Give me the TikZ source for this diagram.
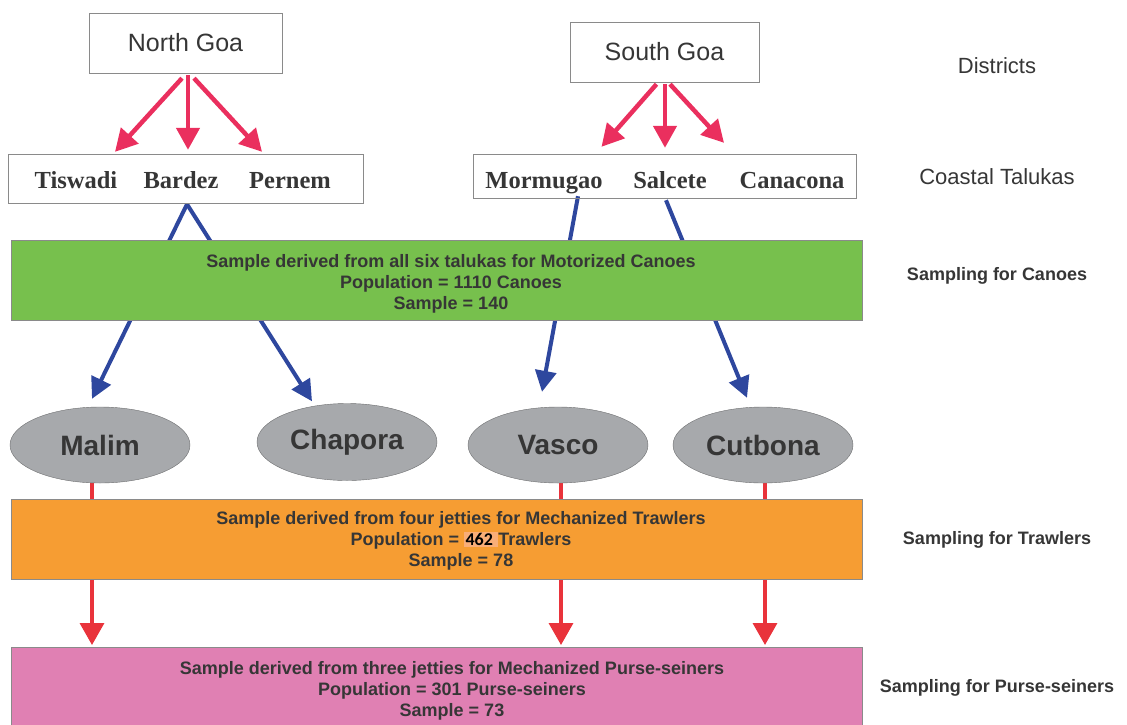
\documentclass[tikz,border=0pt]{standalone}
\usepackage{fontspec}
\setmainfont{Liberation Sans}
\newfontfamily\serifbold{Liberation Serif}
\newfontfamily\calfont{Carlito}
\usetikzlibrary{arrows.meta,shapes.geometric,backgrounds}
\definecolor{txtgray}{HTML}{363636}
\definecolor{boxgray}{HTML}{8A8A8A}
\definecolor{canoegreen}{HTML}{77C04D}
\definecolor{trawlorange}{HTML}{F69D33}
\definecolor{purspink}{HTML}{E080B3}
\definecolor{jettygray}{HTML}{A7A9AC}
\definecolor{jettyedge}{HTML}{6D6E70}
\definecolor{arrowpink}{HTML}{EA2F5E}
\definecolor{arrowblue}{HTML}{2E479E}
\definecolor{arrowred}{HTML}{E9333B}
\definecolor{hlorange}{HTML}{F9AE78}
\begin{document}
\begin{tikzpicture}[x=1pt,y=-1pt,
    district/.style={draw=boxgray,minimum width=193pt,minimum height=60pt,inner sep=0pt,
      font=\fontsize{25}{30}\selectfont,text=txtgray},
    talukabox/.style={draw=boxgray,inner sep=0pt},
    taluka/.style={anchor=base,font=\serifbold\bfseries\fontsize{24.5}{29}\selectfont,text=txtgray},
    sampling/.style={draw=boxgray,minimum width=851pt,minimum height=80pt,inner sep=0pt},
    samplingtext/.style={align=center,font=\bfseries\fontsize{18}{21}\selectfont,text=txtgray},
    jetty/.style={ellipse,draw=jettyedge,fill=jettygray,minimum width=180pt,minimum height=76pt,
      inner sep=0pt,font=\bfseries\fontsize{28}{32}\selectfont,text=txtgray},
    level/.style={font=\fontsize{22}{26}\selectfont,text=txtgray},
    levelbold/.style={font=\bfseries\fontsize{18}{22}\selectfont,text=txtgray},
    pinkarrow/.style={draw=arrowpink,line width=4.5pt,-{Triangle[width=23pt,length=22pt]}},
    bluearrow/.style={draw=arrowblue,line width=4pt,-{Triangle[width=21pt,length=21pt]}},
    redarrow/.style={draw=arrowred,line width=3.5pt,-{Triangle[width=24pt,length=22pt]}}]
  \useasboundingbox (0,0) rectangle (1127,724);
  \clip (0,0) rectangle (1127,724);
  % districts
  \node[district] (ng) at (185.5,43) {North Goa};
  \node[district,minimum width=189pt] (sg) at (664.5,52) {South Goa};
  % coastal talukas
  \node[talukabox,minimum width=355pt,minimum height=49pt] (nbox) at (185.5,178.5) {};
  \node[talukabox,minimum width=383pt,minimum height=44pt] (sbox) at (664.5,176) {};
  \node[taluka] (tiswadi) at (76,188) {Tiswadi};
  \node[taluka] (bardez) at (181,188) {Bardez};
  \node[taluka] (pernem) at (290,188) {Pernem};
  \node[taluka] (mormugao) at (544,188) {Mormugao};
  \node[taluka] (salcete) at (670,188) {Salcete};
  \node[taluka] (canacona) at (792,188) {Canacona};
  % sampling boxes
  \node[sampling,fill=canoegreen] (canoes) at (436.5,280) {};
  \node[samplingtext] (canoetext) at (451,284)
    {Sample derived from all six talukas for Motorized Canoes\\
     Population = 1110 Canoes\\ Sample = 140};
  \node[sampling,fill=trawlorange] (trawlers) at (436.5,539) {};
  \node[samplingtext] (trawlertext) at (461,541)
    {Sample derived from four jetties for Mechanized Trawlers\\
     Population = {\setlength{\fboxsep}{1.5pt}\colorbox{hlorange}{\calfont\color{black}462\hspace{4pt}}}Trawlers\\
     Sample = 78};
  \node[sampling,fill=purspink,minimum height=90pt,anchor=north] (seiners) at (436.5,647) {};
  \node[samplingtext] (seinertext) at (452,691)
    {Sample derived from three jetties for Mechanized Purse-seiners\\
     Population = 301 Purse-seiners\\ Sample = 73};
  % jetties
  \node[jetty] (malim) at (100,445) {Malim};
  \node[jetty,minimum height=77pt] (chapora) at (347,442) {Chapora};
  \node[jetty] (vasco) at (558,445) {Vasco};
  \node[jetty] (cutbona) at (763,445) {Cutbona};
  % side labels
  \node[level] (districts) at (997,66) {Districts};
  \node[level] (coastal) at (997,177) {Coastal Talukas};
  \node[levelbold] (lcanoes) at (997,276) {Sampling for Canoes};
  \node[levelbold] (ltrawlers) at (997,540) {Sampling for Trawlers};
  \node[levelbold] (lseiners) at (997,688) {Sampling for Purse-seiners};
  % district to taluka
  \draw[pinkarrow] ([xshift=-3.5pt,yshift=-5pt]ng.south) -- ([xshift=-70.5pt,yshift=2pt]nbox.north);
  \draw[pinkarrow] ([xshift=2.5pt,yshift=-2pt]ng.south) -- ([xshift=2.5pt,yshift=4pt]nbox.north);
  \draw[pinkarrow] ([xshift=8.5pt,yshift=-5pt]ng.south) -- ([xshift=76.5pt,yshift=2pt]nbox.north);
  \draw[pinkarrow] ([xshift=-8pt,yshift=-2pt]sg.south) -- ([xshift=-63pt,yshift=7pt]sbox.north);
  \draw[pinkarrow] ([xshift=0.5pt,yshift=-2pt]sg.south) -- ([xshift=0.5pt,yshift=6pt]sbox.north);
  \draw[pinkarrow] ([xshift=5.5pt,yshift=-2pt]sg.south) -- ([xshift=59.5pt,yshift=11pt]sbox.north);
  % taluka to jetty, behind the boxes
  \begin{scope}[on background layer]
    \draw[bluearrow] ([xshift=1.5pt,yshift=-1pt]nbox.south) -- ([xshift=-8pt,yshift=8pt]malim.north);
    \draw[bluearrow] ([xshift=1.5pt,yshift=-1pt]nbox.south) -- ([xshift=-35pt,yshift=2pt]chapora.north);
    \draw[bluearrow] ([xshift=-86.5pt,yshift=2pt]sbox.south) -- ([xshift=-16pt,yshift=15pt]vasco.north);
    \draw[bluearrow] ([xshift=1.5pt,yshift=-2pt]sbox.south) -- ([xshift=-16pt,yshift=9pt]cutbona.north);
    \draw[redarrow] ([xshift=-8pt]malim.south) -- ([xshift=-8pt,yshift=2pt]malim.south |- seiners.north);
    \draw[redarrow] ([xshift=3pt]vasco.south) -- ([xshift=3pt,yshift=2pt]vasco.south |- seiners.north);
    \draw[redarrow] ([xshift=2pt]cutbona.south) -- ([xshift=2pt,yshift=2pt]cutbona.south |- seiners.north);
  \end{scope}
\end{tikzpicture}
\end{document}
